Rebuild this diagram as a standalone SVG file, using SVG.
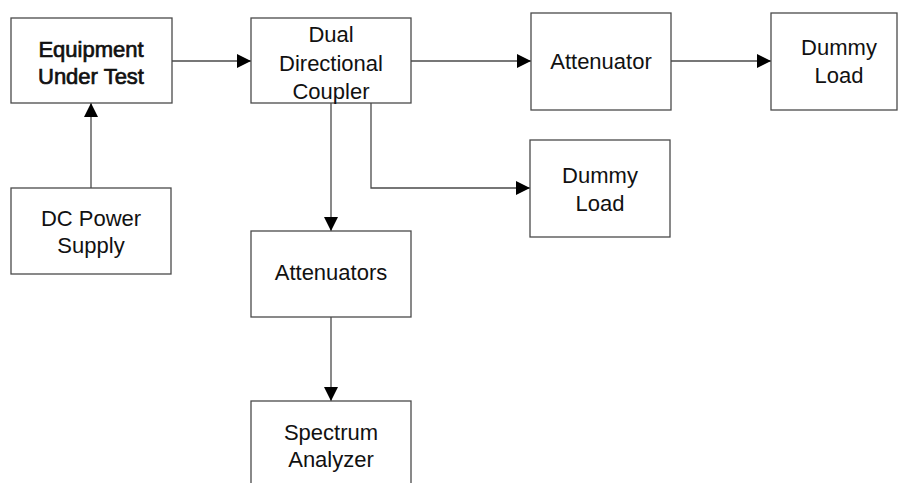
<svg xmlns="http://www.w3.org/2000/svg" width="899" height="483" viewBox="0 0 899 483">
<style>
.box{fill:#fff;stroke:#4a4a4a;stroke-width:1.3}
.lbl{font-family:"Liberation Sans",Arial,sans-serif;font-size:22px;fill:#111;text-anchor:middle}
.bold{stroke:#111;stroke-width:0.7}
.con{fill:none;stroke:#4a4a4a;stroke-width:1.3}
</style>
<defs>
<marker id="ah" markerWidth="14" markerHeight="14" refX="14" refY="7" orient="auto" markerUnits="userSpaceOnUse" viewBox="0 0 14 14">
<path d="M0,0 L14,7 L0,14 Z" fill="#000"/>
</marker>
</defs>
<rect width="899" height="483" fill="#fff"/>
<g id="connectors">
<path class="con" d="M172,61 H251" marker-end="url(#ah)"/>
<path class="con" d="M411,61 H531" marker-end="url(#ah)"/>
<path class="con" d="M671,61 H771" marker-end="url(#ah)"/>
<path class="con" d="M91,188 V103" marker-end="url(#ah)"/>
<path class="con" d="M331,103 V231" marker-end="url(#ah)"/>
<path class="con" d="M371,103 V188 H530" marker-end="url(#ah)"/>
<path class="con" d="M331,317 V401" marker-end="url(#ah)"/>
</g>
<g id="eut">
<rect class="box" x="11" y="18" width="161" height="85"/>
<text class="lbl bold" x="91" y="57">Equipment</text>
<text class="lbl bold" x="91" y="84">Under Test</text>
</g>
<g id="coupler">
<rect class="box" x="251" y="18" width="160" height="85"/>
<text class="lbl" x="331" y="42">Dual</text>
<text class="lbl" x="331" y="71">Directional</text>
<text class="lbl" x="331" y="99">Coupler</text>
</g>
<g id="attenuator">
<rect class="box" x="531" y="13" width="140" height="97"/>
<text class="lbl" x="601" y="69">Attenuator</text>
</g>
<g id="dummy1">
<rect class="box" x="771" y="13" width="126" height="97"/>
<text class="lbl" x="839" y="55">Dummy</text>
<text class="lbl" x="839" y="83">Load</text>
</g>
<g id="dcpower">
<rect class="box" x="11" y="188" width="160" height="86"/>
<text class="lbl" x="91" y="226">DC Power</text>
<text class="lbl" x="91" y="253">Supply</text>
</g>
<g id="dummy2">
<rect class="box" x="530" y="140" width="140" height="97"/>
<text class="lbl" x="600" y="183">Dummy</text>
<text class="lbl" x="600" y="211">Load</text>
</g>
<g id="attenuators">
<rect class="box" x="251" y="231" width="160" height="86"/>
<text class="lbl" x="331" y="280">Attenuators</text>
</g>
<g id="spectrum">
<rect class="box" x="251" y="401" width="160" height="100"/>
<text class="lbl" x="331" y="440">Spectrum</text>
<text class="lbl" x="331" y="467">Analyzer</text>
</g>
</svg>
